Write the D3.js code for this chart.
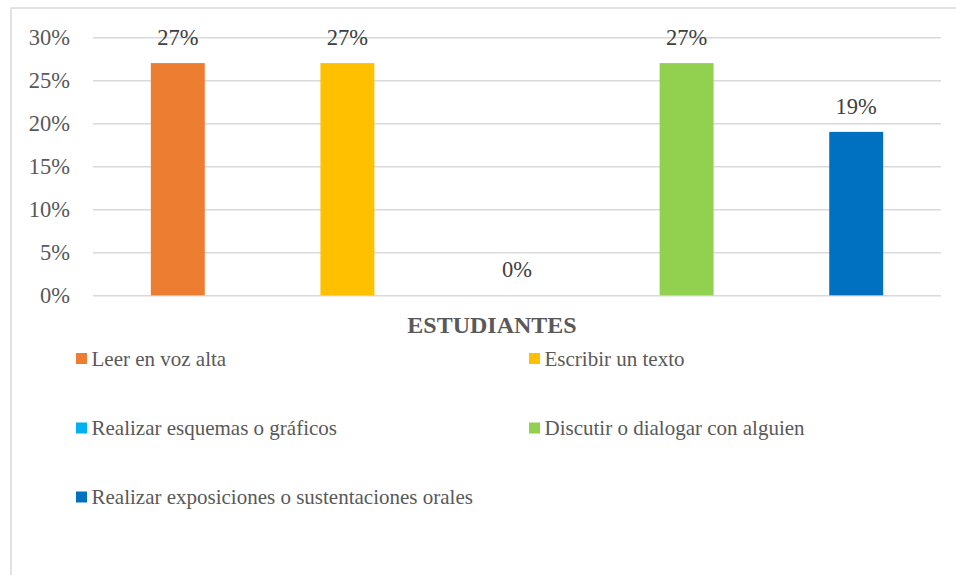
<!DOCTYPE html>
<html>
<head>
<meta charset="utf-8">
<script src="https://cdn.jsdelivr.net/npm/d3@7/dist/d3.min.js"></script>
<style>
  html, body { margin: 0; padding: 0; background: #fff; }
  svg { display: block; }
</style>
</head>
<body>
<svg id="chart" width="956" height="575"></svg>
<script>
// Survey results: activities preferred by students
const categories = [
  "Leer en voz alta",
  "Escribir un texto",
  "Realizar esquemas o gráficos",
  "Discutir o dialogar con alguien",
  "Realizar exposiciones o sustentaciones orales"
];
const values = [0.27, 0.27, 0, 0.27, 0.19];
const colors = ["#ED7D31", "#FFC000", "#00B0F0", "#92D050", "#0070C0"];
const yTicks = [0, 0.05, 0.10, 0.15, 0.20, 0.25, 0.30];
const axisTitle = "ESTUDIANTES";

const FONT = '"Liberation Serif", "Times New Roman", serif';
const svg = d3.select("#chart").attr("font-family", FONT);
const textColor = "#595959";
const gridColor = "#d9d9d9";

// Outer chart frame
svg.append("rect")
  .attr("x", 11).attr("y", 8)
  .attr("width", 1000).attr("height", 700)
  .attr("fill", "none")
  .attr("stroke", gridColor)
  .attr("stroke-width", 1.5);

const plot = { left: 93, right: 941, top: 37.3, bottom: 295.3 };

const x = d3.scaleBand()
  .domain(categories)
  .range([plot.left, plot.right]);

const y = d3.scaleLinear()
  .domain([0, 0.30])
  .range([plot.bottom, plot.top]);

// Horizontal gridlines and percentage labels
const yAxis = d3.axisLeft(y)
  .tickValues(yTicks)
  .tickFormat(d3.format(".0%"))
  .tickSize(-(plot.right - plot.left))
  .tickPadding(23);

const gY = svg.append("g")
  .attr("transform", `translate(${plot.left},0)`)
  .call(yAxis)
  .attr("font-family", FONT)
  .attr("font-size", 22.5);
gY.select(".domain").remove();
gY.selectAll(".tick line")
  .attr("stroke", gridColor)
  .attr("stroke-width", 1.5);
gY.selectAll(".tick text")
  .attr("fill", textColor);

// Bars
const barW = x.bandwidth() * 0.318;
svg.append("g").selectAll("rect")
  .data(categories)
  .join("rect")
  .attr("x", (d) => x(d) + (x.bandwidth() - barW) / 2)
  .attr("y", (d, i) => y(values[i]))
  .attr("width", barW)
  .attr("height", (d, i) => y(0) - y(values[i]))
  .attr("fill", (d, i) => colors[i]);

// Value labels above bars
svg.append("g").selectAll("text")
  .data(categories)
  .join("text")
  .attr("x", (d) => x(d) + x.bandwidth() / 2)
  .attr("y", (d, i) => y(values[i]) - 18)
  .attr("text-anchor", "middle")
  .attr("fill", "#404040")
  .attr("font-size", 22.5)
  .text((d, i) => d3.format(".0%")(values[i]));

// Axis title
svg.append("text")
  .attr("x", 492)
  .attr("y", 333)
  .attr("text-anchor", "middle")
  .attr("fill", textColor)
  .attr("font-size", 24)
  .attr("font-weight", "bold")
  .text(axisTitle);

// Legend: two columns, three rows
const legendCols = [76, 529];
const legendRows = [358.5, 428, 497];
const legend = svg.append("g").selectAll("g")
  .data(categories)
  .join("g")
  .attr("transform", (d, i) =>
    `translate(${legendCols[i % 2]},${legendRows[Math.floor(i / 2)]})`);

legend.append("rect")
  .attr("x", 0).attr("y", -5.5)
  .attr("width", 11).attr("height", 11)
  .attr("fill", (d, i) => colors[i]);

legend.append("text")
  .attr("x", 15.5)
  .attr("y", 7)
  .attr("fill", textColor)
  .attr("font-size", 21)
  .text((d) => d);
</script>
</body>
</html>
